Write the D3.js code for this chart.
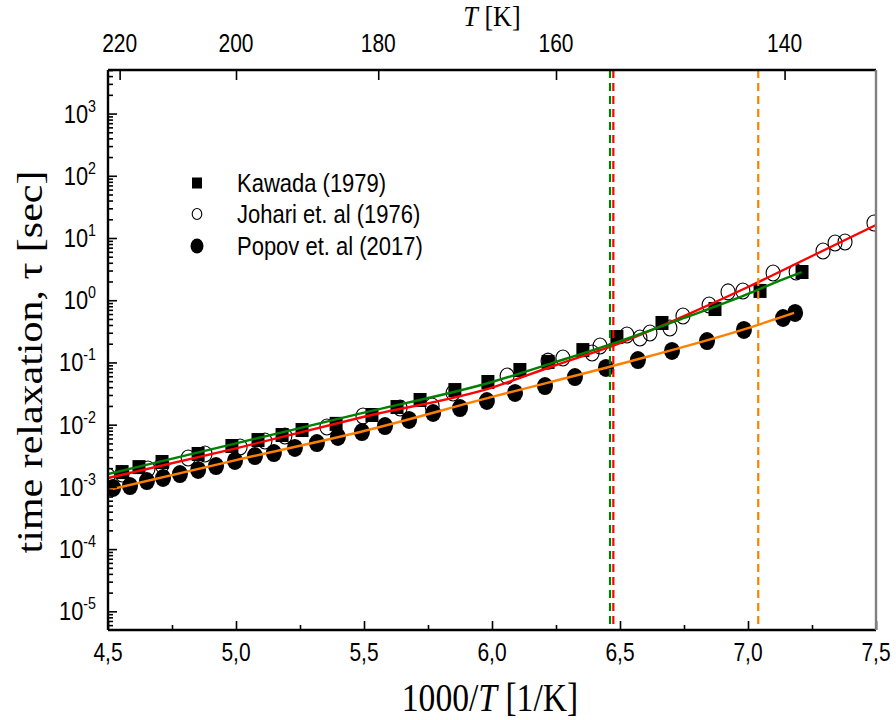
<!DOCTYPE html>
<html><head><meta charset="utf-8">
<script src="https://cdn.jsdelivr.net/npm/d3@7"></script>
<style>
body{margin:0;background:#fff;}
svg{display:block;}
</style></head>
<body>
<svg id="chart" width="896" height="720"></svg>
<script>
// ---------- data ----------
const xTickValues = [4.5, 5.0, 5.5, 6.0, 6.5, 7.0, 7.5];
const topTickTemps = [220, 200, 180, 160, 140];
const yTickExponents = [-5, -4, -3, -2, -1, 0, 1, 2, 3];

const kawadaX = [4.555,4.621,4.711,4.852,4.984,5.086,5.180,5.258,5.391,5.531,5.629,5.719,5.855,5.984,6.109,6.219,6.355,6.488,6.664,6.871,7.047,7.211];
const kawadaTau = [1.73e-3,2.08e-3,2.51e-3,3.38e-3,4.54e-3,5.66e-3,6.82e-3,8.2e-3,1.03e-2,1.43e-2,1.92e-2,2.49e-2,3.60e-2,4.85e-2,7.56e-2,0.102,0.158,0.256,0.431,0.722,1.41,2.84];

const johariX = [4.500,4.555,4.656,4.711,4.813,4.879,5.016,5.113,5.191,5.355,5.496,5.641,5.766,5.848,6.059,6.219,6.277,6.391,6.422,6.527,6.578,6.617,6.695,6.746,6.848,6.922,6.980,7.098,7.188,7.293,7.340,7.379,7.492];
const johariTau = [1.50e-3,1.61e-3,1.94e-3,2.25e-3,2.91e-3,3.38e-3,4.37e-3,5.46e-3,6.57e-3,9.17e-3,1.38e-2,1.85e-2,2.0e-2,3.23e-2,6.05e-2,0.105,0.118,0.142,0.184,0.276,0.247,0.297,0.357,0.557,0.838,1.36,1.41,2.74,2.84,6.18,8.31,8.63,17.4];

const popovX = [4.520,4.586,4.652,4.715,4.781,4.852,4.922,4.996,5.074,5.148,5.230,5.316,5.398,5.492,5.582,5.676,5.770,5.875,5.980,6.090,6.207,6.324,6.445,6.570,6.703,6.840,6.984,7.137,7.184];
const popovTau = [9.6e-4,1.03e-3,1.24e-3,1.39e-3,1.61e-3,1.87e-3,2.16e-3,2.61e-3,3.13e-3,3.50e-3,4.22e-3,5.07e-3,6.34e-3,7.62e-3,9.5e-3,1.19e-2,1.54e-2,1.85e-2,2.40e-2,3.23e-2,4.18e-2,5.83e-2,8.15e-2,0.109,0.153,0.221,0.333,0.518,0.624];

const greenFitX = [4.5,5.0,5.5,6.0,6.25,6.5,6.75,7.0,7.1,7.21];
const greenFitTau = [1.61e-3,5.01e-3,1.56e-2,4.85e-2,0.102,0.221,0.518,1.26,1.89,2.84];
const redFitX = [4.5,5.0,5.5,6.0,6.25,6.5,6.75,7.0,7.25,7.5];
const redFitTau = [1.39e-3,4.17e-3,1.34e-2,3.95e-2,9.10e-2,0.205,0.557,1.63,5.14,16.2];
const orangeFitX = [4.5,5.0,5.5,6.0,6.5,7.0,7.18];
const orangeFitTau = [8.9e-4,2.70e-3,7.91e-3,2.79e-2,9.44e-2,0.357,0.624];

const markerLineX = [6.461, 6.474, 7.04];
const markerLineColor = ["#008000", "#ff0000", "#ff8000"];

const legendLabels = ["Kawada (1979)", "Johari et. al (1976)", "Popov et. al (2017)"];

// ---------- layout ----------
const L = 108, R = 876, T = 70, B = 630;
const svg = d3.select("#chart");
const x = d3.scaleLinear().domain([4.5, 7.5]).range([L, R]);
const y = d3.scaleLog().domain([Math.pow(10, -5.3), Math.pow(10, 3.7)]).range([B, T]);

const SX = 0.84; // horizontal squeeze of the reference's text
function squeezedText(parent, px, py, str, opts) {
  const g = parent.append("g").attr("transform", `translate(${px},${py}) scale(${opts.sx || SX},1)`);
  const t = g.append("text").attr("x", 0).attr("y", 0)
    .attr("text-anchor", opts.anchor || "middle")
    .attr("font-family", opts.family || "'Liberation Sans', Arial, sans-serif")
    .attr("font-size", opts.size || 20)
    .attr("fill", "#000");
  return t.text(str);
}

svg.append("defs").append("clipPath").attr("id", "plotclip")
  .append("rect").attr("x", L).attr("y", T).attr("width", R - L).attr("height", B - T);

// ---------- markers ----------
const plot = svg.append("g").attr("clip-path", "url(#plotclip)");

const kawada = kawadaX.map((v, i) => ({x: v, y: kawadaTau[i]}));
const johari = johariX.map((v, i) => ({x: v, y: johariTau[i]}));
const popov = popovX.map((v, i) => ({x: v, y: popovTau[i]}));

plot.append("g").selectAll("ellipse").data(popov).join("ellipse")
  .attr("cx", d => x(d.x)).attr("cy", d => y(d.y))
  .attr("rx", 8).attr("ry", 9).attr("fill", "#000");

plot.append("g").selectAll("rect").data(kawada).join("rect")
  .attr("x", d => x(d.x) - 6.5).attr("y", d => y(d.y) - 7)
  .attr("width", 13).attr("height", 14).attr("fill", "#000");

plot.append("g").selectAll("ellipse").data(johari).join("ellipse")
  .attr("cx", d => x(d.x)).attr("cy", d => y(d.y))
  .attr("rx", 7).attr("ry", 8).attr("fill", "none")
  .attr("stroke", "#000").attr("stroke-width", 1.1);

// ---------- fit lines ----------
const line = d3.line().x(d => x(d.x)).y(d => y(d.y)).curve(d3.curveMonotoneX);
const fits = [
  {X: orangeFitX, Y: orangeFitTau, c: "#ff8000"},
  {X: redFitX, Y: redFitTau, c: "#ff0000"},
  {X: greenFitX, Y: greenFitTau, c: "#008000"}
];
fits.forEach(f => {
  plot.append("path").datum(f.X.map((v, i) => ({x: v, y: f.Y[i]})))
    .attr("d", line).attr("fill", "none").attr("stroke", f.c).attr("stroke-width", 2.4);
});

// ---------- dashed vertical lines ----------
markerLineX.forEach((v, i) => {
  plot.append("line").attr("x1", x(v)).attr("x2", x(v)).attr("y1", T).attr("y2", B)
    .attr("stroke", markerLineColor[i]).attr("stroke-width", 2.2)
    .attr("stroke-dasharray", "8,5");
});

// ---------- axes ----------
const xMinor = d3.range(4.75, 7.5, 0.5);
svg.append("g").attr("transform", `translate(0,${B})`)
  .call(d3.axisBottom(x).tickValues(xTickValues).tickSize(-9).tickFormat(""));
svg.append("g").attr("transform", `translate(0,${B})`)
  .call(d3.axisBottom(x).tickValues(xMinor).tickSize(-5).tickFormat(""));
xTickValues.forEach(v => {
  squeezedText(svg, x(v), B + 31, d3.format(".1f")(v).replace(".", ","), {size: 25});
});

svg.append("g").attr("transform", `translate(0,${T})`)
  .call(d3.axisTop(x).tickValues(topTickTemps.map(t => 1000 / t)).tickSize(-10).tickFormat(""));
topTickTemps.forEach(t => {
  squeezedText(svg, x(1000 / t), 52, String(t), {size: 25});
});

const yMajor = yTickExponents.map(e => Math.pow(10, e));
const yMinor = [];
for (let e = -6; e <= 3; e++) for (let k = 2; k <= 9; k++) {
  const v = k * Math.pow(10, e);
  if (v >= y.domain()[0] && v <= y.domain()[1]) yMinor.push(v);
}
svg.append("g").attr("transform", `translate(${L},0)`)
  .call(d3.axisLeft(y).tickValues(yMajor).tickSize(-9).tickFormat(""));
svg.append("g").attr("transform", `translate(${L},0)`)
  .call(d3.axisLeft(y).tickValues(yMinor).tickSize(-5).tickFormat(""));
yTickExponents.forEach(e => {
  const t = squeezedText(svg, 96, y(Math.pow(10, e)) + 9, "", {size: 26, anchor: "end"});
  t.append("tspan").text("10");
  t.append("tspan").attr("font-size", 17).attr("dy", -11).text(String(e));
});

svg.selectAll(".domain").remove();
svg.selectAll(".tick line").attr("stroke", "#000").attr("stroke-width", 1.6);

// frame
svg.append("line").attr("x1", L).attr("x2", R).attr("y1", T).attr("y2", T).attr("stroke", "#000").attr("stroke-width", 2.4);
svg.append("line").attr("x1", L).attr("x2", R).attr("y1", B).attr("y2", B).attr("stroke", "#000").attr("stroke-width", 2.4);
svg.append("line").attr("x1", L).attr("x2", L).attr("y1", T).attr("y2", B).attr("stroke", "#000").attr("stroke-width", 2.4);
svg.append("line").attr("x1", R).attr("x2", R).attr("y1", T).attr("y2", B).attr("stroke", "#808080").attr("stroke-width", 2.4);

// ---------- titles ----------
const serif = "'Liberation Serif', 'Times New Roman', serif";
const xt = squeezedText(svg, 490, 711, "", {size: 40, family: serif});
xt.append("tspan").text("1000/");
xt.append("tspan").attr("font-style", "italic").text("T");
xt.append("tspan").text(" [1/K]");

const tt = squeezedText(svg, 492, 26, "", {size: 29, family: serif, sx: 0.9});
tt.append("tspan").attr("font-style", "italic").text("T");
tt.append("tspan").text(" [K]");

const yg = svg.append("g").attr("transform", `translate(42,362) scale(${SX},1) rotate(-90)`);
yg.append("text").attr("text-anchor", "middle").attr("font-family", serif)
  .attr("font-size", 42).attr("fill", "#000").text("time relaxation, \u03C4 [sec]");

// ---------- legend ----------
const legY = [183, 214, 246];
const lg = svg.append("g");
lg.append("rect").attr("x", 197 - 5).attr("y", legY[0] - 5.5).attr("width", 10).attr("height", 11).attr("fill", "#000");
lg.append("ellipse").attr("cx", 197).attr("cy", legY[1]).attr("rx", 4.8).attr("ry", 5.5)
  .attr("fill", "none").attr("stroke", "#000").attr("stroke-width", 1.1);
lg.append("ellipse").attr("cx", 197).attr("cy", legY[2]).attr("rx", 6.5).attr("ry", 7.5).attr("fill", "#000");
legendLabels.forEach((s, i) => {
  squeezedText(lg, 237, legY[i] + 8.5, s, {size: 25, anchor: "start", sx: 0.88});
});
</script>
</body></html>
